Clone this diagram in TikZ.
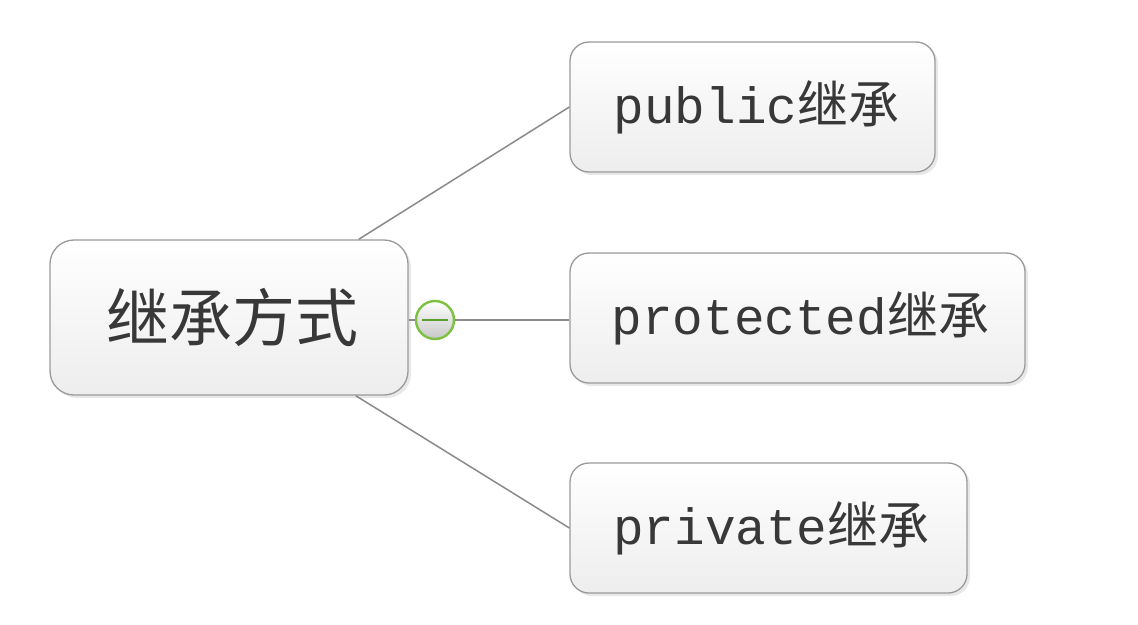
\documentclass[tikz,border=0pt]{standalone}
\usepackage{fontspec}
\newfontfamily\cjk{Noto Sans CJK SC}
\newfontfamily\mono{Liberation Mono}
\usetikzlibrary{shadows}
\definecolor{boxline}{HTML}{9A9A9A}
\definecolor{conn}{HTML}{8A8A8A}
\definecolor{txt}{HTML}{383838}
\definecolor{ring}{HTML}{7DC142}
\definecolor{bar}{HTML}{5A9E2E}
\tikzset{
  topic/.style={draw=boxline, line width=1.3pt, top color=white, bottom color=black!7,
    drop shadow={opacity=0.18, shadow xshift=3pt, shadow yshift=-3pt},
    text=txt, inner sep=0pt},
  roottopic/.style={topic, rounded corners=24pt, minimum width=358pt, minimum height=155pt,
    font=\fontsize{63}{63}\selectfont\cjk},
  subtopic/.style={topic, rounded corners=19pt, minimum height=130pt,
    font=\fontsize{51}{51}\selectfont},
  conn/.style={draw=conn, line width=1.5pt},
  toggle/.style={circle, draw=ring, line width=2.4pt, minimum size=38pt, inner sep=0pt,
    top color=white, bottom color=black!22}
}
\begin{document}
\begin{tikzpicture}[x=1pt,y=-1pt]
\useasboundingbox (0,0) rectangle (1138,624);
\node[roottopic] (root) at (229,317.5) {\hspace*{6pt}继承方式};
\node[subtopic, minimum width=365pt] (pub) at (752.5,107) {\hspace*{8pt}{\mono public}{\cjk 继承}};
\node[subtopic, minimum width=455pt] (pro) at (797.5,318) {\hspace*{6pt}{\mono protected}{\cjk 继承}};
\node[subtopic, minimum width=397pt] (pri) at (768.5,528) {\hspace*{6pt}{\mono private}{\cjk 继承}};
\node[toggle] (tog) at (435,320) {};
\draw[draw=bar, line width=2.6pt] ([xshift=-13pt]tog.center) -- ([xshift=13pt]tog.center);
\draw[conn] ([xshift=-50pt]root.north east) -- (pub.west);
\draw[conn] ([xshift=-53pt]root.south east) -- (pri.west);
\draw[conn] (root.east |- tog.west) -- (tog.west);
\draw[conn] (tog.east) -- (pro.west |- tog.east);
\end{tikzpicture}
\end{document}
